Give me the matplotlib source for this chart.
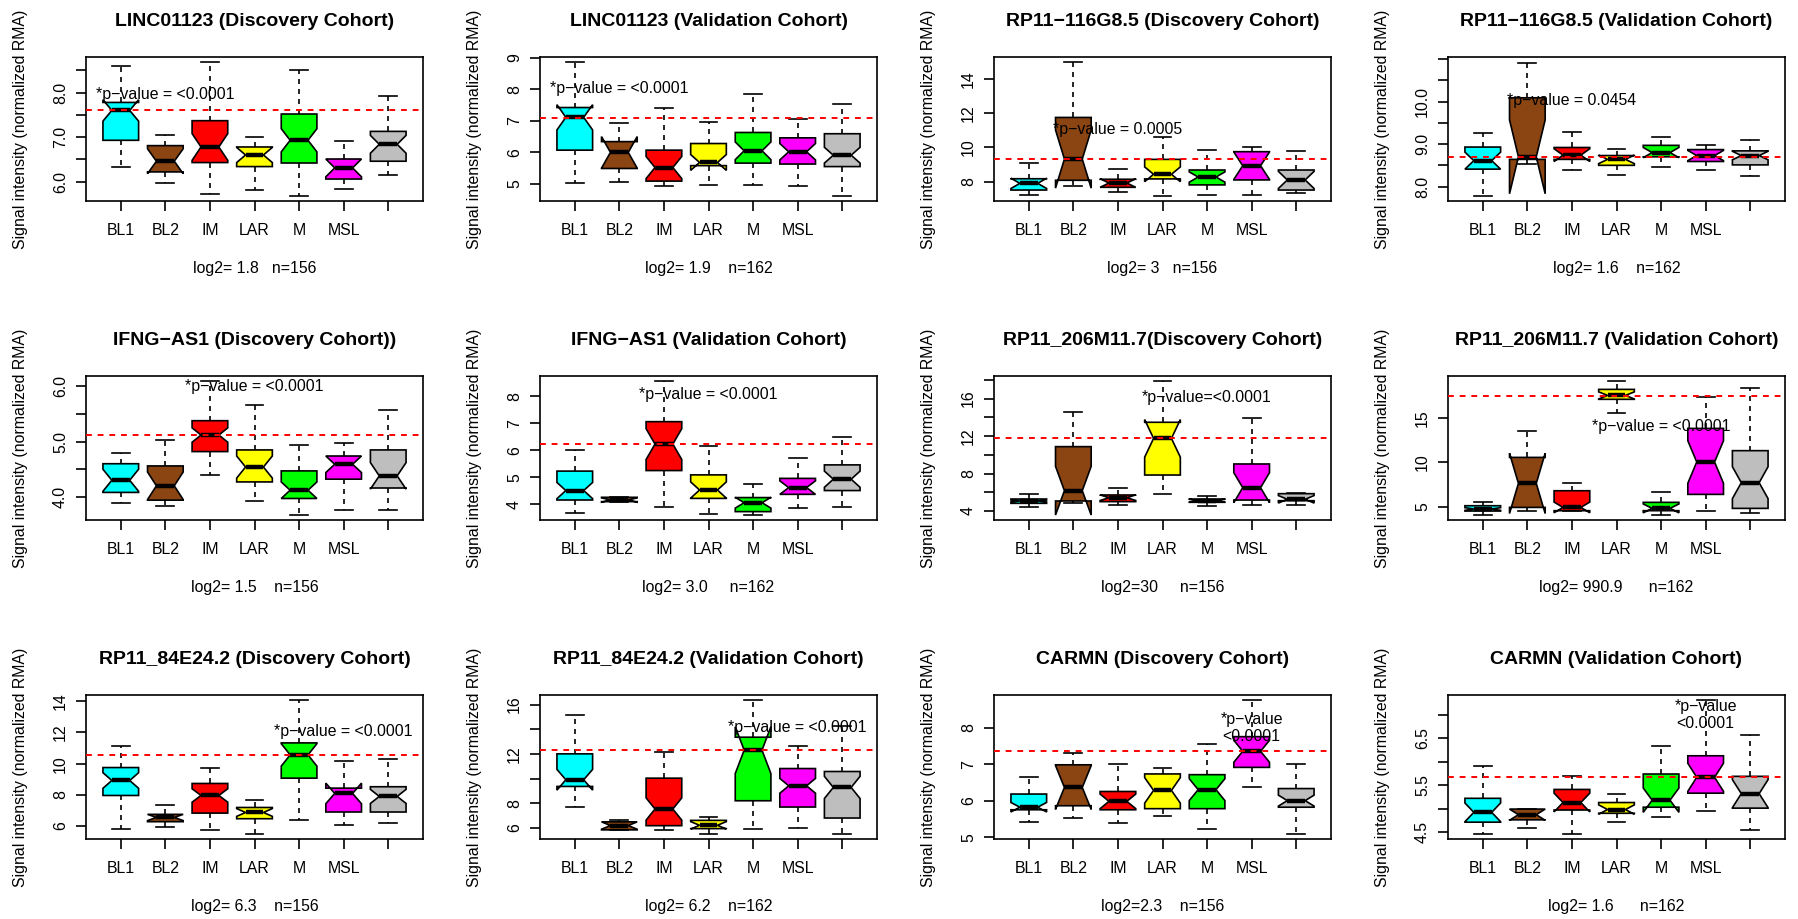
import numpy as np
import matplotlib
matplotlib.use("Agg")
import matplotlib.pyplot as plt

plt.rcParams["font.family"] = ["Liberation Sans", "DejaVu Sans"]

# ============================================================
# Data
# ============================================================

TICK_LABELS = ["BL1", "BL2", "IM", "LAR", "M", "MSL", ""]
BOX_COLORS = ["#00FFFF", "#8B4513", "#FF0000", "#FFFF00", "#00FF00", "#FF00FF", "#BEBEBE"]

TITLES = [
    "LINC01123 (Discovery Cohort)", "LINC01123 (Validation Cohort)",
    "RP11\u2212116G8.5 (Discovery Cohort)", "RP11\u2212116G8.5 (Validation Cohort)",
    "IFNG\u2212AS1 (Discovery Cohort))", "IFNG\u2212AS1 (Validation Cohort)",
    "RP11_206M11.7(Discovery Cohort)", "RP11_206M11.7 (Validation Cohort)",
    "RP11_84E24.2 (Discovery Cohort)", "RP11_84E24.2 (Validation Cohort)",
    "CARMN (Discovery Cohort)", "CARMN (Validation Cohort)",
]

SUBTITLES = [
    "log2= 1.8   n=156", "log2= 1.9    n=162",
    "log2= 3   n=156", "log2= 1.6    n=162",
    "log2= 1.5    n=156", "log2= 3.0     n=162",
    "log2=30     n=156", "log2= 990.9      n=162",
    "log2= 6.3    n=156", "log2= 6.2    n=162",
    "log2=2.3    n=156", "log2= 1.6      n=162",
]

HI = [
    [8.60, 7.04, 8.69, 7.00, 8.50, 6.92, 7.93],
    [8.85, 6.92, 7.42, 6.96, 7.84, 7.07, 7.52],
    [9.09, 14.97, 8.74, 10.60, 9.84, 10.02, 9.81],
    [9.27, 10.92, 9.28, 8.88, 9.16, 8.98, 9.09],
    [4.79, 5.03, 6.10, 5.67, 4.94, 4.97, 5.58],
    [6.00, 4.28, 8.57, 6.16, 4.77, 5.73, 6.51],
    [5.78, 14.60, 6.49, 17.88, 5.60, 13.89, 5.95],
    [5.49, 13.53, 7.71, 19.17, 6.65, 17.33, 18.42],
    [11.10, 7.34, 9.75, 7.68, 14.06, 10.14, 10.31],
    [15.16, 6.65, 12.15, 6.86, 16.35, 12.68, 14.27],
    [6.64, 7.30, 7.01, 6.89, 7.55, 8.75, 7.01],
    [5.92, 5.00, 5.70, 5.32, 6.34, 7.32, 6.58],
]

Q3 = [
    [7.78, 6.81, 7.37, 6.78, 7.52, 6.51, 7.13],
    [7.42, 6.34, 6.07, 6.28, 6.63, 6.46, 6.59],
    [8.17, 11.75, 8.14, 9.30, 8.68, 9.75, 8.68],
    [8.93, 10.09, 8.92, 8.73, 8.97, 8.87, 8.84],
    [4.60, 4.56, 5.38, 4.85, 4.47, 4.74, 4.85],
    [5.23, 4.26, 7.06, 5.09, 4.25, 4.96, 5.46],
    [5.28, 10.87, 5.71, 13.47, 5.28, 9.02, 5.85],
    [5.11, 10.56, 6.80, 18.23, 5.49, 13.83, 11.32],
    [9.75, 6.75, 8.73, 7.19, 11.33, 8.43, 8.52],
    [12.01, 6.50, 10.04, 6.62, 13.36, 10.82, 10.58],
    [6.18, 6.98, 6.25, 6.73, 6.71, 7.75, 6.33],
    [5.22, 4.99, 5.41, 5.13, 5.74, 6.13, 5.69],
]

MED = [
    [7.60, 6.46, 6.78, 6.60, 6.93, 6.31, 6.84],
    [7.11, 6.00, 5.52, 5.68, 6.05, 6.02, 5.91],
    [7.90, 9.32, 7.92, 8.43, 8.27, 8.93, 8.10],
    [8.61, 8.70, 8.74, 8.64, 8.80, 8.73, 8.73],
    [4.30, 4.20, 5.12, 4.54, 4.12, 4.59, 4.38],
    [4.51, 4.16, 6.23, 4.53, 4.06, 4.62, 4.93],
    [5.07, 6.17, 5.42, 11.75, 5.10, 6.49, 5.25],
    [4.74, 7.63, 4.92, 17.55, 4.81, 10.04, 7.71],
    [8.92, 6.55, 7.96, 6.87, 10.56, 8.09, 7.90],
    [9.91, 6.20, 7.54, 6.22, 12.31, 9.42, 9.29],
    [5.82, 6.36, 5.98, 6.28, 6.30, 7.35, 6.00],
    [4.92, 4.87, 5.13, 4.98, 5.18, 5.67, 5.32],
]

Q1 = [
    [6.93, 6.22, 6.43, 6.34, 6.42, 6.06, 6.46],
    [6.07, 5.49, 5.09, 5.58, 5.66, 5.63, 5.55],
    [7.51, 8.08, 7.67, 8.16, 7.81, 8.10, 7.51],
    [8.41, 8.64, 8.64, 8.50, 8.70, 8.59, 8.51],
    [4.08, 3.94, 4.82, 4.27, 3.97, 4.32, 4.16],
    [4.16, 4.10, 5.25, 4.22, 3.73, 4.37, 4.51],
    [4.82, 5.07, 5.00, 7.84, 4.93, 5.17, 5.10],
    [4.51, 4.92, 4.55, 17.11, 4.55, 6.39, 4.81],
    [7.96, 6.28, 6.83, 6.47, 9.07, 6.90, 6.90],
    [9.37, 5.85, 6.19, 5.95, 8.21, 7.70, 6.81],
    [5.75, 5.86, 5.75, 5.78, 5.78, 6.91, 5.82],
    [4.71, 4.76, 4.97, 4.90, 5.03, 5.33, 5.01],
]

LO = [
    [6.32, 5.96, 5.72, 5.82, 5.69, 5.84, 6.14],
    [5.02, 5.05, 4.92, 4.98, 4.98, 4.94, 4.62],
    [7.22, 7.77, 7.38, 7.17, 7.22, 7.22, 7.34],
    [7.78, 8.52, 8.38, 8.28, 8.47, 8.39, 8.25],
    [3.88, 3.84, 4.39, 3.93, 3.67, 3.76, 3.76],
    [3.67, 4.09, 3.91, 3.64, 3.60, 3.85, 3.89],
    [4.39, 4.90, 4.64, 5.78, 4.57, 4.64, 4.64],
    [4.06, 4.51, 4.50, 15.60, 4.06, 4.51, 4.25],
    [5.81, 5.96, 5.72, 5.51, 6.41, 6.09, 6.19],
    [7.70, 5.80, 5.87, 5.54, 5.92, 5.97, 5.54],
    [5.41, 5.53, 5.39, 5.59, 5.23, 6.36, 5.10],
    [4.46, 4.59, 4.46, 4.71, 4.83, 4.94, 4.55],
]

# half-width of the median notch (confidence interval)
NOTCH = [
    [0.24, 0.28, 0.30, 0.17, 0.26, 0.20, 0.20],
    [0.40, 0.50, 0.35, 0.25, 0.28, 0.26, 0.25],
    [0.30, 1.70, 0.25, 0.43, 0.30, 0.80, 0.50],
    [0.20, 0.87, 0.15, 0.10, 0.12, 0.12, 0.10],
    [0.20, 0.25, 0.13, 0.20, 0.15, 0.15, 0.24],
    [0.30, 0.08, 0.57, 0.30, 0.20, 0.25, 0.30],
    [0.10, 2.60, 0.30, 2.00, 0.15, 1.60, 0.40],
    [0.15, 3.40, 0.60, 0.40, 0.50, 2.40, 1.80],
    [0.50, 0.20, 0.43, 0.25, 0.72, 0.66, 0.45],
    [0.84, 0.30, 0.90, 0.30, 1.90, 0.60, 0.90],
    [0.13, 0.60, 0.20, 0.35, 0.30, 0.30, 0.15],
    [0.20, 0.12, 0.20, 0.10, 0.26, 0.30, 0.30],
]

REF_LINE = [7.60, 7.10, 9.30, 8.70, 5.12, 6.23, 11.80, 17.52, 10.56, 12.31, 7.35, 5.67]

P_TEXT = [
    "*p\u2212value = <0.0001", "*p\u2212value = <0.0001",
    "*p\u2212value = 0.0005", "*p\u2212value = 0.0454",
    "*p\u2212value = <0.0001", "*p\u2212value = <0.0001",
    "*p\u2212value=<0.0001", "*p\u2212value = <0.0001",
    "*p\u2212value = <0.0001", "*p\u2212value = <0.0001",
    "*p\u2212value\n<0.0001", "*p\u2212value\n<0.0001",
]
P_X = [2, 2, 3, 3, 4, 4, 5, 5, 6, 6, 6, 6]
P_Y = [7.95, 8.03, 11.07, 10.02, 6.0, 8.05, 16.1, 14.1, 12.05, 14.15, 7.98, 7.0]

YLIMS = [
    (5.567, 8.80), (4.46, 9.02), (6.87, 15.28), (7.66, 11.05),
    (3.58, 6.19), (3.42, 8.75), (3.04, 18.41), (3.50, 19.74),
    (5.17, 14.40), (5.11, 16.78), (4.95, 8.89), (4.35, 7.43),
]

YTICKS = [
    [6.0, 6.5, 7.0, 7.5, 8.0, 8.5],
    [5, 6, 7, 8, 9],
    [8, 10, 12, 14],
    [8.0, 8.5, 9.0, 9.5, 10.0, 10.5, 11.0],
    [4.0, 4.5, 5.0, 5.5, 6.0],
    [4, 5, 6, 7, 8],
    [4, 6, 8, 10, 12, 14, 16, 18],
    [5, 10, 15],
    [6, 8, 10, 12, 14],
    [6, 8, 10, 12, 14, 16],
    [5, 6, 7, 8],
    [4.5, 5.0, 5.5, 6.0, 6.5, 7.0],
]

YTICKLABELS = [
    ["6.0", "", "7.0", "", "8.0", ""],
    ["5", "6", "7", "8", "9"],
    ["8", "10", "12", "14"],
    ["8.0", "", "9.0", "", "10.0", "", ""],
    ["4.0", "", "5.0", "", "6.0"],
    ["4", "5", "6", "7", "8"],
    ["4", "", "8", "", "12", "", "16", ""],
    ["5", "10", "15"],
    ["6", "8", "10", "12", "14"],
    ["6", "8", "", "12", "", "16"],
    ["5", "6", "7", "8"],
    ["4.5", "", "5.5", "", "6.5", ""],
]

# ============================================================
# Layout (pixels of the 1798x919 output)
# ============================================================

FIG_W, FIG_H = 1798, 919
COL_LEFT = [86, 540, 994, 1448]
ROW_TOP = [57, 376, 695]
AX_W, AX_H = 337, 144
PT = 0.72  # points per pixel at dpi 100

FS = 11.4
DASH = (0, (3, 3))


def draw_panel(ax, k):
    stats = []
    for j in range(7):
        stats.append({
            "whislo": LO[k][j], "q1": Q1[k][j], "med": MED[k][j],
            "q3": Q3[k][j], "whishi": HI[k][j],
            "cilo": MED[k][j] - NOTCH[k][j], "cihi": MED[k][j] + NOTCH[k][j],
            "fliers": [],
        })

    bp = ax.bxp(
        stats,
        positions=range(1, 8),
        widths=0.8,
        shownotches=True,
        patch_artist=True,
        showfliers=False,
        boxprops=dict(edgecolor="black", linewidth=1.2),
        whiskerprops=dict(color="black", linewidth=1.2, linestyle=DASH),
        capprops=dict(color="black", linewidth=1.2),
        medianprops=dict(color="black", linewidth=3.2, solid_capstyle="butt"),
    )
    for patch, c in zip(bp["boxes"], BOX_COLORS):
        patch.set_facecolor(c)

    ax.axhline(REF_LINE[k], color="red", linewidth=1.4, linestyle=DASH, zorder=5)

    ax.text(P_X[k], P_Y[k], P_TEXT[k], ha="center", va="center",
            fontsize=FS, linespacing=1.15, zorder=6)

    ax.set_xlim(0.22, 7.78)
    ax.set_ylim(*YLIMS[k])
    ax.set_xticks(range(1, 8))
    ax.set_xticklabels(TICK_LABELS, fontsize=FS)
    ax.set_yticks(YTICKS[k])
    ax.set_yticklabels(YTICKLABELS[k], fontsize=FS, rotation=90, va="center")
    ax.tick_params(axis="x", length=7, width=1.2, pad=9)
    ax.tick_params(axis="y", length=7, width=1.2, pad=6)
    for s in ax.spines.values():
        s.set_linewidth(1.2)

    ax.set_title(TITLES[k], fontsize=14, fontweight="bold", pad=22)

    ax.annotate("Signal intensity (normalized RMA)", xy=(0, 0.5),
                xycoords="axes fraction", xytext=(-66 * PT, 0),
                textcoords="offset points", rotation=90,
                ha="center", va="center", fontsize=FS)
    ax.annotate(SUBTITLES[k], xy=(0.5, 0), xycoords="axes fraction",
                xytext=(0, -72 * PT), textcoords="offset points",
                ha="center", va="baseline", fontsize=FS)


def main():
    fig = plt.figure(figsize=(FIG_W / 100, FIG_H / 100), dpi=100)
    for k in range(12):
        r, c = divmod(k, 4)
        rect = [COL_LEFT[c] / FIG_W, 1 - (ROW_TOP[r] + AX_H) / FIG_H,
                AX_W / FIG_W, AX_H / FIG_H]
        ax = fig.add_axes(rect)
        draw_panel(ax, k)
    fig.savefig("out.png", dpi=100)
    plt.close(fig)


if __name__ == "__main__":
    main()
